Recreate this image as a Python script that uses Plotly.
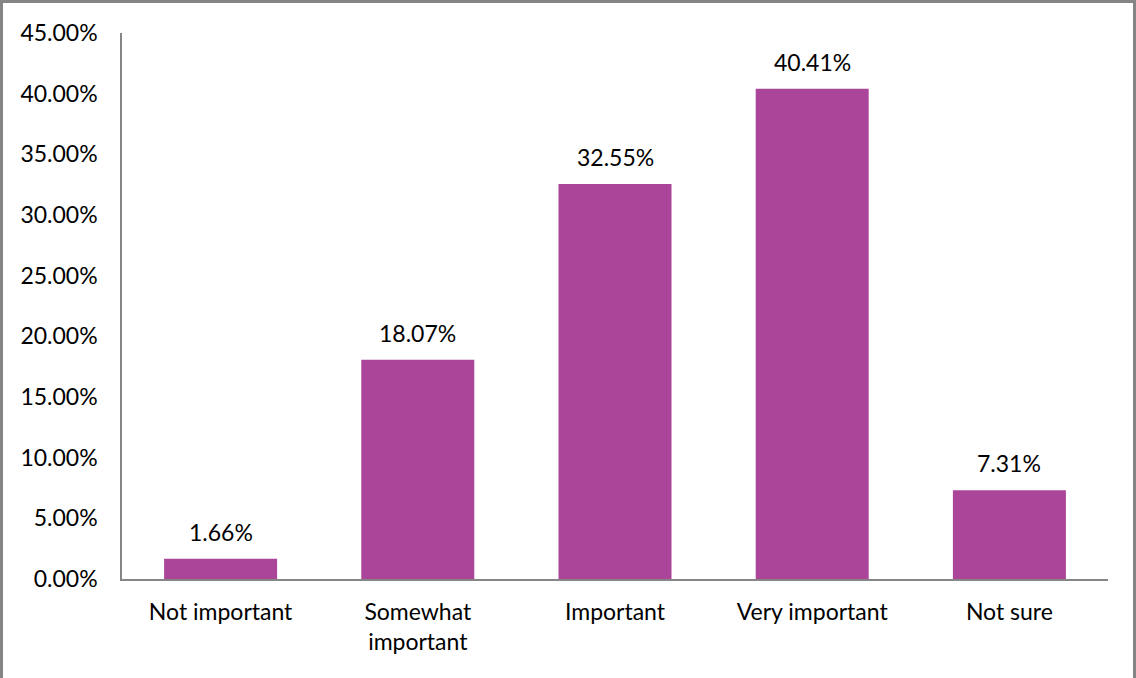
import plotly.graph_objects as go

categories = ["Not important", "Somewhat<br>important", "Important", "Very important", "Not sure"]
shares = [1.66, 18.07, 32.55, 40.41, 7.31]
tick_values = [0, 5, 10, 15, 20, 25, 30, 35, 40, 45]
tick_labels = [f"{v:.2f}%" for v in tick_values]

W, H = 1136, 678
ML, MR, MT, MB = 122, 28, 33, 99
PW, PH = W - ML - MR, H - MT - MB

FONT = "Lato, 'Open Sans', sans-serif"
FS = 23
BAR = "#AA4599"
AXIS = "#868686"

fig = go.Figure(go.Bar(
    x=categories,
    y=shares,
    marker=dict(color=BAR, line=dict(width=0)),
    hoverinfo="skip",
))

for c, v in zip(categories, shares):
    fig.add_annotation(
        x=c, y=v, text=f"{v:.2f}%", showarrow=False,
        yanchor="bottom", yshift=11,
        font=dict(family=FONT, size=FS, color="#000000"),
    )

def px_x(p):
    return (p - ML) / PW

def px_y(p):
    return (H - MB - p) / PH

# outer frame (left, top, right edges)
frame = dict(color="#858585", width=3)
fig.add_shape(type="line", xref="paper", yref="paper",
              x0=px_x(1.5), x1=px_x(1.5), y0=px_y(0), y1=px_y(H), line=frame)
fig.add_shape(type="line", xref="paper", yref="paper",
              x0=px_x(0), x1=px_x(W), y0=px_y(1.5), y1=px_y(1.5), line=frame)
fig.add_shape(type="line", xref="paper", yref="paper",
              x0=px_x(W - 1.5), x1=px_x(W - 1.5), y0=px_y(0), y1=px_y(H), line=frame)

fig.update_layout(
    width=W, height=H,
    margin=dict(l=ML, r=MR, t=MT, b=MB),
    paper_bgcolor="white", plot_bgcolor="white",
    bargap=0.427,
    showlegend=False,
    font=dict(family=FONT, size=FS, color="#000000"),
    xaxis=dict(
        showline=True, linecolor=AXIS, linewidth=1.5,
        showgrid=False, ticks="", tickfont=dict(family=FONT, size=FS),
        ticklabelstandoff=12, fixedrange=True,
    ),
    yaxis=dict(
        range=[0, 45], tickvals=tick_values, ticktext=tick_labels,
        showline=True, linecolor=AXIS, linewidth=1.5,
        showgrid=False, zeroline=False, ticks="", ticklen=0,
        tickfont=dict(family=FONT, size=FS), ticklabelstandoff=18,
        fixedrange=True,
    ),
)

fig.write_html("out.html", config={"displayModeBar": False})
